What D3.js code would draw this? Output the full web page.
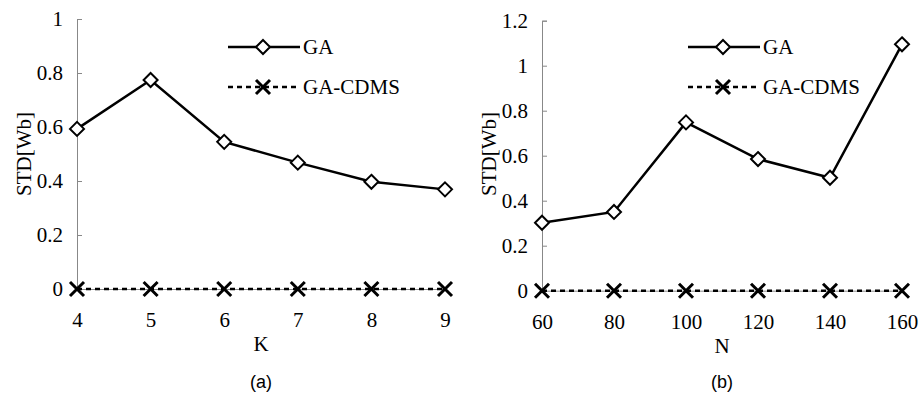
<!DOCTYPE html>
<html>
<head>
<meta charset="utf-8" />
<title>STD vs K and N</title>
<style>
  body { margin: 0; background: #fff; }
  .tick text { font-family: "Liberation Serif", "Times New Roman", serif; font-size: 21px; fill: #000; }
  .label { font-family: "Liberation Serif", "Times New Roman", serif; font-size: 21px; }
  .caption { font-family: "Liberation Sans", Arial, sans-serif; font-size: 18px; }
</style>
</head>
<body>
<div id="chart"></div>
<script src="https://d3js.org/d3.v7.min.js"></script>
<script>
// panel (a): STD vs K
const kValues = [4, 5, 6, 7, 8, 9];
const gaK = [0.593, 0.774, 0.545, 0.468, 0.397, 0.369];
const cdmsK = [0, 0, 0, 0, 0, 0];
const yTicksA = [0, 0.2, 0.4, 0.6, 0.8, 1];

// panel (b): STD vs N
const nValues = [60, 80, 100, 120, 140, 160];
const gaN = [0.302, 0.35, 0.748, 0.585, 0.502, 1.095];
const cdmsN = [0, 0, 0, 0, 0, 0];
const yTicksB = [0, 0.2, 0.4, 0.6, 0.8, 1, 1.2];

const seriesNames = ['GA', 'GA-CDMS'];

const svg = d3.select('#chart').append('svg')
  .attr('width', 919)
  .attr('height', 396);

const diamond = 'M0,-7L7,0L0,7L-7,0Z';
const cross = 'M-7,-7L7,7M-7,7L7,-7';

function drawPanel(opt) {
  const g = svg.append('g');

  const x = d3.scalePoint()
    .domain(opt.cats)
    .range([opt.left, opt.right]);

  const y = d3.scaleLinear()
    .domain([0, opt.yMax])
    .range([opt.bottom, opt.top]);

  // y axis, ticks pointing into the plot
  const yAxis = g.append('g')
    .attr('transform', `translate(${opt.left},0)`)
    .call(d3.axisLeft(y).tickValues(opt.yTicks).tickSize(-5).tickPadding(14).tickFormat(d3.format('')));
  yAxis.select('.domain').attr('stroke', '#888').attr('stroke-width', 1);
  yAxis.selectAll('.tick line').attr('stroke', '#888');

  // x axis
  const xAxis = g.append('g')
    .attr('transform', `translate(0,${opt.bottom})`)
    .call(d3.axisBottom(x).tickSize(0).tickPadding(23));
  xAxis.select('.domain').attr('stroke', '#888').attr('stroke-width', 1);

  // axis titles
  g.append('text')
    .attr('class', 'label')
    .attr('x', (opt.left + opt.right) / 2)
    .attr('y', opt.bottom + 62)
    .attr('text-anchor', 'middle')
    .text(opt.xTitle);

  g.append('text')
    .attr('class', 'label')
    .attr('transform', `translate(${opt.yTitleX},${opt.yTitleY}) rotate(-90)`)
    .attr('text-anchor', 'middle')
    .text('STD[Wb]');

  g.append('text')
    .attr('class', 'caption')
    .attr('x', (opt.left + opt.right) / 2)
    .attr('y', 388)
    .attr('text-anchor', 'middle')
    .text(opt.caption);

  const line = d3.line()
    .x((d, i) => x(opt.cats[i]))
    .y(d => y(d));

  // GA-CDMS dashed line + crosses
  g.append('path')
    .datum(opt.cdms)
    .attr('fill', 'none')
    .attr('stroke', '#000')
    .attr('stroke-width', 2.5)
    .attr('stroke-dasharray', '5,4')
    .attr('d', line);

  g.selectAll('.cross')
    .data(opt.cdms)
    .enter()
    .append('path')
    .attr('class', 'cross')
    .attr('transform', (d, i) => `translate(${x(opt.cats[i])},${y(d)})`)
    .attr('d', cross)
    .attr('stroke', '#000')
    .attr('stroke-width', 3);

  // GA solid line + diamonds
  g.append('path')
    .datum(opt.ga)
    .attr('fill', 'none')
    .attr('stroke', '#000')
    .attr('stroke-width', 2.5)
    .attr('d', line);

  g.selectAll('.diamond')
    .data(opt.ga)
    .enter()
    .append('path')
    .attr('class', 'diamond')
    .attr('transform', (d, i) => `translate(${x(opt.cats[i])},${y(d)})`)
    .attr('d', diamond)
    .attr('fill', '#fff')
    .attr('stroke', '#000')
    .attr('stroke-width', 2);

  // legend
  const lg = g.append('g').attr('transform', `translate(${opt.legendX},0)`);
  seriesNames.forEach((name, i) => {
    const ly = 47 + i * 40;
    lg.append('line')
      .attr('x1', 0).attr('x2', 72)
      .attr('y1', ly).attr('y2', ly)
      .attr('stroke', '#000')
      .attr('stroke-width', 2.5)
      .attr('stroke-dasharray', i === 0 ? null : '5,4');
    if (i === 0) {
      lg.append('path')
        .attr('transform', `translate(35,${ly})`)
        .attr('d', diamond)
        .attr('fill', '#fff').attr('stroke', '#000').attr('stroke-width', 2);
    } else {
      lg.append('path')
        .attr('transform', `translate(35,${ly})`)
        .attr('d', cross)
        .attr('stroke', '#000').attr('stroke-width', 3);
    }
    lg.append('text')
      .attr('class', 'label')
      .attr('x', 75)
      .attr('y', ly)
      .attr('dy', '0.35em')
      .text(name);
  });
}

drawPanel({
  cats: kValues, ga: gaK, cdms: cdmsK, yTicks: yTicksA, yMax: 1,
  left: 77, right: 445, top: 19, bottom: 289,
  xTitle: 'K', caption: '(a)', yTitleX: 31, yTitleY: 154, legendX: 228
});

drawPanel({
  cats: nValues, ga: gaN, cdms: cdmsN, yTicks: yTicksB, yMax: 1.2,
  left: 542, right: 902, top: 20.7, bottom: 290.7,
  xTitle: 'N', caption: '(b)', yTitleX: 496, yTitleY: 154, legendX: 688
});
</script>
</body>
</html>
